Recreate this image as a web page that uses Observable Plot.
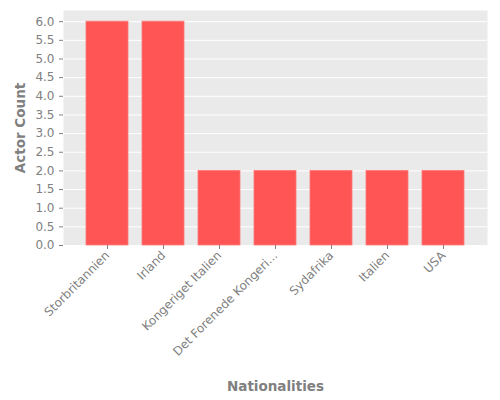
<!DOCTYPE html>
<html>
<head>
<meta charset="utf-8">
<script src="https://cdn.jsdelivr.net/npm/d3@7"></script>
<script src="https://cdn.jsdelivr.net/npm/@observablehq/plot@0.6"></script>
<style>
  body { margin: 0; background: white; }
  #chart svg text { fill: #808080; }
  g[aria-label="x-axis label"] text,
  g[aria-label="y-axis label"] text { font-weight: bold; font-size: 13.5px; }
</style>
</head>
<body>
<div id="chart"></div>
<script>
const nationalities = ["Storbritannien", "Irland", "Kongeriget Italien", "Det Forenede Kongeri...", "Sydafrika", "Italien", "USA"];
const actorCounts = [6, 6, 2, 2, 2, 2, 2];
const yTicks = d3.range(0, 6.01, 0.5);

const data = nationalities.map((n, i) => ({ nationality: n, count: actorCounts[i] }));

const chart = Plot.plot({
  width: 500,
  height: 400,
  marginLeft: 63,
  marginRight: 13,
  marginTop: 10,
  marginBottom: 155,
  style: { fontFamily: "DejaVu Sans", fontSize: "12px", background: "white" },
  x: { domain: nationalities, paddingInner: 0.25, paddingOuter: 0.37, label: null },
  y: { domain: [0, 6.3], label: null },
  marks: [
    Plot.frame({ fill: "#eaeaea", stroke: null }),
    Plot.gridY(yTicks, { stroke: "white", strokeOpacity: 1, strokeWidth: 1 }),
    Plot.barY(data, { x: "nationality", y: "count", fill: "#ff5555", stroke: "#ff7a7a", strokeWidth: 0.8 }),
    Plot.axisY(yTicks, {
      tickFormat: d3.format(".1f"), tickSize: 4, stroke: "#808080",
      label: "Actor Count", labelAnchor: "center", labelArrow: "none", labelOffset: 48
    }),
    Plot.axisX({
      tickRotate: -45, tickSize: 4, stroke: "#808080", tickPadding: 4,
      label: "Nationalities", labelAnchor: "center", labelArrow: "none", labelOffset: 145
    })
  ]
});

document.getElementById("chart").append(chart);
</script>
</body>
</html>
